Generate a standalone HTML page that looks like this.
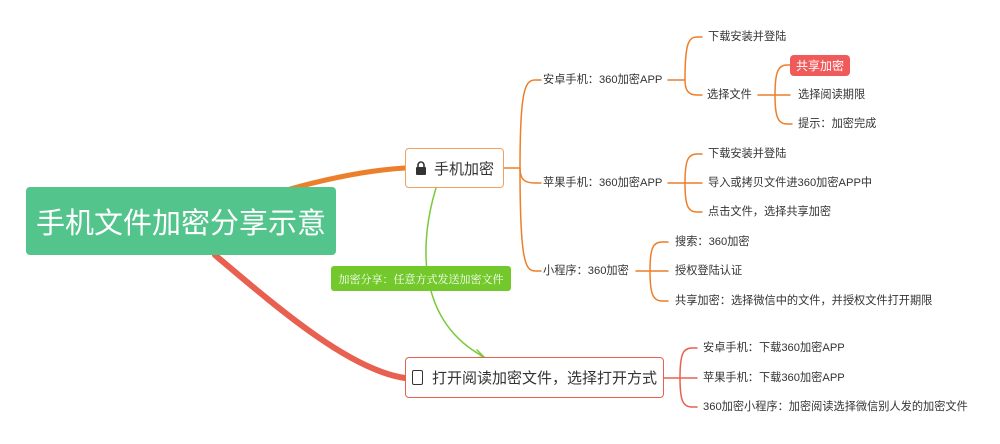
<!DOCTYPE html>
<html><head><meta charset="utf-8"><style>
body{margin:0;width:1000px;height:444px;background:#fff;position:relative;overflow:hidden;font-family:"Liberation Sans","Noto Sans CJK SC",sans-serif;}
.t{position:absolute;font-size:11.2px;color:#333;line-height:16px;white-space:nowrap}
.box{position:absolute;box-sizing:border-box;display:flex;align-items:center;justify-content:center;white-space:nowrap}
</style></head><body>
<svg width="1000" height="444" style="position:absolute;left:0;top:0">
<g fill="none" stroke-linecap="round">
<path d="M290 189 C330 178 370 170 405 168" stroke="#ec7f2b" stroke-width="5"/>
<path d="M215 255 C280 310 350 370 405 378" stroke="#e8604f" stroke-width="6"/>
<path d="M436 188 C420 240 415 320 484 357" stroke="#7ac93a" stroke-width="1.5"/>
<path d="M477 350 L484 357 L474 358" stroke="#7ac93a" stroke-width="1.5"/>
<g stroke="#ec7f2b" stroke-width="1.5">
<path d="M504 168 H520"/>
<path d="M520 168 C520 90 525 80 535 80 H541"/>
<path d="M520 168 C520 180 525 183 535 183 H541"/>
<path d="M520 168 C520 260 525 271 535 271 H541"/>
<path d="M668 80 H685 M685 80 C685 45 688 37 697 37 H702 M685 80 C685 90 688 95 697 95 H702"/>
<path d="M758 95 H775 M775 95 C775 72 778 65 787 65 H790 M775 95 H790 M775 95 C775 117 778 124 787 124 H792"/>
<path d="M668 183 H685 M685 183 C685 160 688 154 697 154 H702 M685 183 H702 M685 183 C685 206 688 212 697 212 H702"/>
<path d="M636 271 H650 M650 271 C650 248 653 242 662 242 H668 M650 271 H668 M650 271 C650 294 653 301 662 301 H668"/>
</g>
<g stroke="#e8604f" stroke-width="1.5">
<path d="M664 378 H680 M680 378 C680 354 683 348 692 348 H697 M680 378 H697 M680 378 C680 401 683 407 692 407 H697"/>
</g>
</g>
</svg>
<div class="box" style="left:26px;top:187px;width:310px;height:68px;background:#52c48c;border-radius:4px;color:#fff;font-size:29px;">手机文件加密分享示意</div>
<div class="box" style="left:405px;top:148px;width:99px;height:40px;border:1px solid #f0a060;border-radius:4px;background:#fff;font-size:15px;color:#333;"><svg width="12" height="14" style="margin-right:7px"><path d="M3 6 V4 a3 3 0 0 1 6 0 V6" fill="none" stroke="#333" stroke-width="1.6"/><rect x="1" y="6" width="10" height="8" rx="1" fill="#333"/></svg>手机加密</div>
<div class="box" style="left:405px;top:357px;width:259px;height:41px;border:1px solid #e8604f;border-radius:4px;background:#fff;font-size:15px;color:#333;"><span style="display:inline-block;width:9px;height:13px;border:1.5px solid #333;border-radius:2px;margin-right:9px"></span>打开阅读加密文件，选择打开方式</div>
<div class="box" style="left:331px;top:266px;width:180px;height:25px;background:#73c92c;border-radius:3px;color:#fff;font-size:11px;font-family:'Noto Serif CJK SC',serif;">加密分享：任意方式发送加密文件</div>
<div class="t" style="left:543px;top:72px">安卓手机：360加密APP</div>
<div class="t" style="left:543px;top:175px">苹果手机：360加密APP</div>
<div class="t" style="left:543px;top:263px">小程序：360加密</div>
<div class="t" style="left:708px;top:29px">下载安装并登陆</div>
<div class="t" style="left:707px;top:87px">选择文件</div>
<div class="box" style="left:790px;top:55px;width:60px;height:21px;background:#f05a5a;border-radius:4px;color:#fff;font-size:12px;">共享加密</div>
<div class="t" style="left:798px;top:87px">选择阅读期限</div>
<div class="t" style="left:798px;top:116px">提示：加密完成</div>
<div class="t" style="left:708px;top:146px">下载安装并登陆</div>
<div class="t" style="left:708px;top:175px">导入或拷贝文件进360加密APP中</div>
<div class="t" style="left:708px;top:204px">点击文件，选择共享加密</div>
<div class="t" style="left:675px;top:234px">搜索：360加密</div>
<div class="t" style="left:675px;top:263px">授权登陆认证</div>
<div class="t" style="left:675px;top:293px">共享加密：选择微信中的文件，并授权文件打开期限</div>
<div class="t" style="left:703px;top:340px">安卓手机：下载360加密APP</div>
<div class="t" style="left:703px;top:370px">苹果手机：下载360加密APP</div>
<div class="t" style="left:703px;top:399px">360加密小程序：加密阅读选择微信别人发的加密文件</div>
</body></html>
